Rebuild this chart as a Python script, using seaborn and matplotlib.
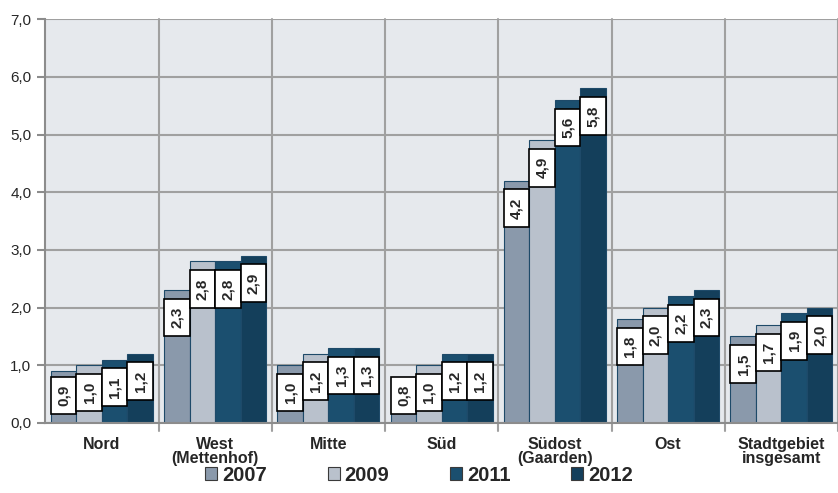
import pandas as pd
import matplotlib.pyplot as plt
import seaborn as sns
from matplotlib.patches import Rectangle


categories = ['Nord', 'West\n(Mettenhof)', 'Mitte', 'Süd', 'Südost\n(Gaarden)', 'Ost',
              'Stadtgebiet\ninsgesamt']
years = ['2007', '2009', '2011', '2012']
v2007 = [0.9, 2.3, 1.0, 0.8, 4.2, 1.8, 1.5]
v2009 = [1.0, 2.8, 1.2, 1.0, 4.9, 2.0, 1.7]
v2011 = [1.1, 2.8, 1.3, 1.2, 5.6, 2.2, 1.9]
v2012 = [1.2, 2.9, 1.3, 1.2, 5.8, 2.3, 2.0]
yticks = [0, 1, 2, 3, 4, 5, 6, 7]

colors = ['#8a99ab', '#b9c1cc', '#1b4f6f', '#143f5b']

rows = []
for year, vals in zip(years, [v2007, v2009, v2011, v2012]):
    for cat, v in zip(categories, vals):
        rows.append({'Gebiet': cat, 'Jahr': year, 'Wert': v})
df = pd.DataFrame(rows)

sns.set_style('white')
plt.rcParams['font.family'] = ['Liberation Sans', 'DejaVu Sans']

fig = plt.figure(figsize=(8.38, 4.93), dpi=100)
ax = fig.add_axes([0.054, 0.142, 0.946, 0.819])
ax.set_facecolor('#e6e9ed')

sns.barplot(data=df, x='Gebiet', y='Wert', hue='Jahr', order=categories,
            hue_order=years, palette=colors, width=0.9, saturation=1,
            edgecolor='#1e4a69', linewidth=0.8, ax=ax, zorder=3)

# white label boxes just below each bar top (kept above a minimum height)
for cont in ax.containers:
    for bar, v in zip(cont, cont.datavalues):
        x0 = bar.get_x()
        w = bar.get_width()
        top = max(v - 0.15, 0.8)
        ax.add_patch(Rectangle((x0, top - 0.65), w, 0.65, facecolor='white',
                               edgecolor='black', linewidth=1.2, zorder=4))
        ax.text(x0 + w / 2, top - 0.325, f'{v:.1f}'.replace('.', ','),
                rotation=90, ha='center', va='center', fontsize=11,
                fontweight='bold', zorder=5)

ax.set_ylim(0, 7)
ax.set_xlim(-0.5, len(categories) - 0.5)
ax.set_yticks(yticks)
ax.set_yticklabels([f'{t:.1f}'.replace('.', ',') for t in yticks], fontsize=11)
ax.set_xticks(range(len(categories)))
ax.set_xticklabels(categories, fontsize=11.5, fontweight='bold', linespacing=0.95)
ax.tick_params(axis='x', length=0, pad=10)
ax.tick_params(axis='y', length=6, color='#8c8c8c', width=1.5, pad=4, left=True)
ax.set_xlabel('')
ax.set_ylabel('')

for t in yticks:
    ax.axhline(t, color='#a0a0a0', linewidth=1.5, zorder=1)
for i in range(len(categories)):
    ax.axvline(i + 0.5, color='#a0a0a0', linewidth=1.5, zorder=1, ymin=-0.02,
               clip_on=False)

for s in ['top', 'right']:
    ax.spines[s].set_visible(False)
ax.spines['left'].set_color('#8c8c8c')
ax.spines['left'].set_linewidth(1.5)
ax.spines['bottom'].set_color('#8c8c8c')
ax.spines['bottom'].set_linewidth(1.5)
ax.spines['bottom'].set_zorder(6)

handles, labels = ax.get_legend_handles_labels()
ax.get_legend().remove()
for h in handles:
    h.set_edgecolor('#3a3a3a')
fig.legend(handles, labels, loc='lower center', bbox_to_anchor=(0.5, -0.004), ncol=4,
           frameon=False, prop={'weight': 'bold', 'size': 14.5},
           handlelength=0.6, handleheight=0.6, handletextpad=0.25,
           columnspacing=3.0, borderpad=0)

fig.savefig('out.png', dpi=100)
